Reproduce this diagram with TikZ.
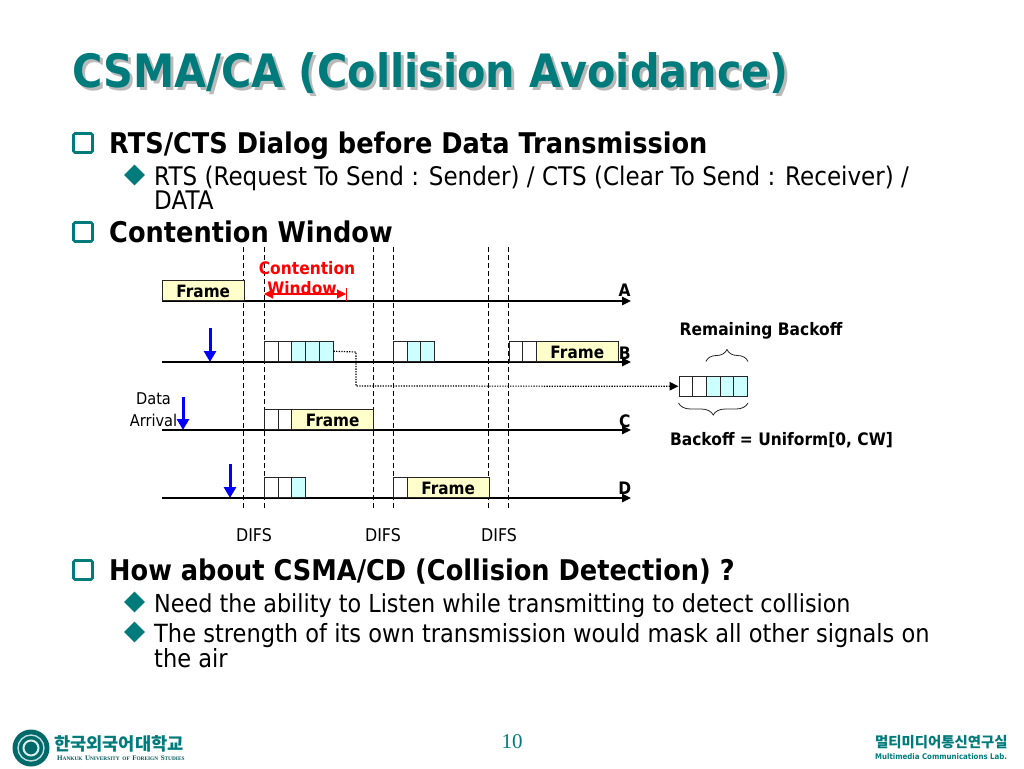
\documentclass[tikz,border=0pt]{standalone}
\usepackage{fontspec}
\usetikzlibrary{shapes,arrows.meta,calc,decorations.pathreplacing}
\setmainfont{DejaVu Sans}[FakeStretch=0.9]
\newfontfamily\cjk{Noto Sans CJK KR}
\newfontfamily\serifpn{Liberation Serif}
\definecolor{slideteal}{HTML}{007B7B}
\definecolor{frameyellow}{HTML}{FFFFCC}
\definecolor{cellcyan}{HTML}{CCFFFF}
\newcommand{\fs}[1]{\fontsize{#1}{#1}\selectfont}
\newcommand{\smc}[2]{{\fs{7}#1}{\fs{5.35}#2}}
\tikzset{
  txt/.style={inner sep=0pt,anchor=base west,text=black},
  headtxt/.style={txt,font=\fs{28.5}\bfseries},
  subtxt/.style={txt,font=\fs{25.6}},
  lab/.style={inner sep=0pt,font=\fs{16.2}},
  blab/.style={inner sep=0pt,font=\fs{17.2}\bfseries},
  squarebul/.style={draw=slideteal,line width=2.6pt,rounded corners=1.5pt,minimum size=19pt,inner sep=0pt},
  diamondbul/.style={diamond,fill=slideteal,minimum size=21pt,inner sep=0pt},
  cell/.style={draw=black!85,line width=1pt,inner sep=0pt,minimum height=20.5pt,minimum width=13.7pt,anchor=south west},
  whitecell/.style={cell,fill=white},
  cyancell/.style={cell,fill=cellcyan},
  framecell/.style={cell,fill=frameyellow,font=\fs{17}\bfseries,text height=15pt,text depth=0pt},
  timeline/.style={draw=black,line width=1.3pt,-{Triangle[length=9pt,width=8.5pt]}},
  dif/.style={black,line width=.9pt,dash pattern=on 4.5pt off 3.5pt},
  arrival/.style={draw=blue,line width=3pt,-{Triangle[length=11pt,width=12pt]}},
  hop/.style={black,line width=1.2pt,dash pattern=on 1.3pt off 1.3pt,-{Triangle[length=9pt,width=8.5pt]}},
  curly/.style={draw=black!85,line width=.8pt,decorate}
}
\begin{document}
\begin{tikzpicture}[x=1pt,y=-1pt]
\useasboundingbox (0,0) rectangle (1024,768);
\fill[white] (0,0) rectangle (1024,768);
% slide text
\node[txt,text=black!27,font=\fs{46}\bfseries] (titleshade) at (75,90) {CSMA/CA (Collision Avoidance)};
\node[txt,text=slideteal,font=\fs{46}\bfseries] (title) at (72,87) {CSMA/CA (Collision Avoidance)};
\node[squarebul] (sq1) at (83,143) {};
\node[headtxt] (head1) at (109,153) {RTS/CTS Dialog before Data Transmission};
\node[diamondbul] (di1) at (134.5,175) {};
\node[subtxt] (sub1) at (154,185) {RTS (Request To Send : Sender) / CTS (Clear To Send : Receiver) /};
\node[subtxt] (sub1b) at (154,209) {DATA};
\node[squarebul] (sq2) at (83,232) {};
\node[headtxt] (head2) at (109,242) {Contention Window};
\node[squarebul] (sq3) at (83,570) {};
\node[headtxt] (head3) at (109,580) {How about CSMA/CD (Collision Detection) ?};
\node[diamondbul] (di2) at (134.5,602) {};
\node[subtxt,font=\fs{24.8}] (sub2) at (154,612) {Need the ability to Listen while transmitting to detect collision};
\node[diamondbul] (di3) at (134.5,632) {};
\node[subtxt,font=\fs{25.05}] (sub3) at (154,642) {The strength of its own transmission would mask all other signals on};
\node[subtxt,font=\fs{25.05}] (sub3b) at (154,667) {the air};
% dashed slots
\foreach \name/\xx in {a/243.5,b/264,c/373,d/393,e/488.5,f/508.5}{
  \coordinate (top\name) at (\xx,247);
  \coordinate (bot\name) at (\xx,509);
  \draw[dif] (top\name) -- (bot\name);
}
% station lines
\foreach \name/\yy in {A/301,B/362,C/430,D/498}{
  \coordinate (start\name) at (162,\yy);
  \coordinate (end\name) at (631,\yy);
  \draw[timeline] (start\name) -- (end\name);
}
\node[blab] (labA) at (624.7,290) {A};
\node[blab] (labB) at (624.7,353) {B};
\node[blab] (labC) at (624.7,421) {C};
\node[blab] (labD) at (624.7,488) {D};
% station A
\node[framecell,minimum width=81.5pt] (frameA) at (162,301) {Frame};
\node[blab,text=red] (cont1) at (307,268) {Contention};
\node[blab,text=red] (cont2) at (302,288) {Window};
\coordinate (cwL) at (264,294);
\coordinate (cwR) at (346,294);
\draw[red,line width=1.1pt,{Triangle[length=9pt,width=9pt]}-{Triangle[length=9pt,width=9pt]}] (cwL) -- (cwR);
\draw[red,line width=.8pt] (346,288) -- (346,301);
% station B
\foreach \nn/\xx/\sty in {1/264/whitecell,2/277.7/whitecell,3/291.4/cyancell,4/305.1/cyancell,5/318.8/cyancell}
  \node[\sty] (bA\nn) at (\xx,362) {};
\foreach \nn/\xx/\sty in {1/393/whitecell,2/406.7/cyancell,3/420.4/cyancell}
  \node[\sty] (bB\nn) at (\xx,362) {};
\foreach \nn/\xx in {1/508.5,2/522.2}
  \node[whitecell] (bC\nn) at (\xx,362) {};
\node[framecell,minimum width=81.8pt] (frameB) at (535.9,362) {Frame};
% station C
\foreach \nn/\xx in {1/264,2/277.7}
  \node[whitecell] (cA\nn) at (\xx,430) {};
\node[framecell,minimum width=81.6pt] (frameC) at (291.4,430) {Frame};
% station D
\foreach \nn/\xx/\sty in {1/264/whitecell,2/277.7/whitecell,3/291.4/cyancell}
  \node[\sty] (dA\nn) at (\xx,498) {};
\node[whitecell] (dB1) at (393,498) {};
\node[framecell,minimum width=81.8pt] (frameD) at (406.7,498) {Frame};
% arrivals
\foreach \xx/\y/\yy in {210/328/362,183/397/430,230/464/498}{
  \coordinate (arrS) at (\xx,\y);
  \coordinate (arrE) at (\xx,\yy);
  \draw[arrival] (arrS) -- (arrE);
}
\node[lab] (data1) at (153.5,399) {Data};
\node[lab] (data2) at (153.5,420) {Arrival};
\node[lab,font=\fs{17.6}] (difs1) at (254,535) {DIFS};
\node[lab,font=\fs{17.6}] (difs2) at (383,535) {DIFS};
\node[lab,font=\fs{17.6}] (difs3) at (499,535) {DIFS};
% backoff
\foreach \nn/\xx/\sty in {1/678.5/whitecell,2/692.2/whitecell,3/705.9/cyancell,4/719.6/cyancell,5/733.3/cyancell}
  \node[\sty] (rem\nn) at (\xx,397) {};
\draw[hop] (bA5.east) -- (356,352) -- (356,386) -- (rem1.west);
\node[blab] (remlab) at (761,331) {Remaining Backoff};
\node[blab] (bklab) at (781.5,440) {Backoff = Uniform[0, CW]};
\draw[curly,decoration={brace,amplitude=12pt}] ($(rem3.north west)+(0,-14)$) -- ($(rem5.north east)+(0,-14)$);
\draw[curly,decoration={brace,amplitude=12pt,mirror}] ($(rem1.south west)+(0,6)$) -- ($(rem5.south east)+(0,6)$);
% footer
\fill[slideteal!85!black] (31,748) circle (18.5);
\draw[white!75!slideteal,line width=1.4pt] (31,748) circle (13);
\draw[white!85!slideteal,line width=2pt] (31,748) circle (7.5);
\node[txt,text=slideteal,font=\fs{17.6}\cjk\bfseries] (uni) at (54,750) {한국외국어대학교};
\node[txt,text=slideteal!70!black,font=\serifpn\bfseries] (unien) at (57,760) {\smc{H}{ANKUK} \smc{U}{NIVERSITY} \smc{}{OF} \smc{F}{OREIGN} \smc{S}{TUDIES}};
\node[inner sep=0pt,text=slideteal,font=\fs{21}\serifpn] (pageno) at (512,742) {10};
\node[txt,text=slideteal,font=\fs{14.4}\cjk\bfseries] (lab1) at (875,747) {멀티미디어통신연구실};
\node[txt,text=slideteal,font=\fs{7.8}\bfseries] (lab2) at (875,759) {Multimedia Communications Lab.};
\end{tikzpicture}
\end{document}
